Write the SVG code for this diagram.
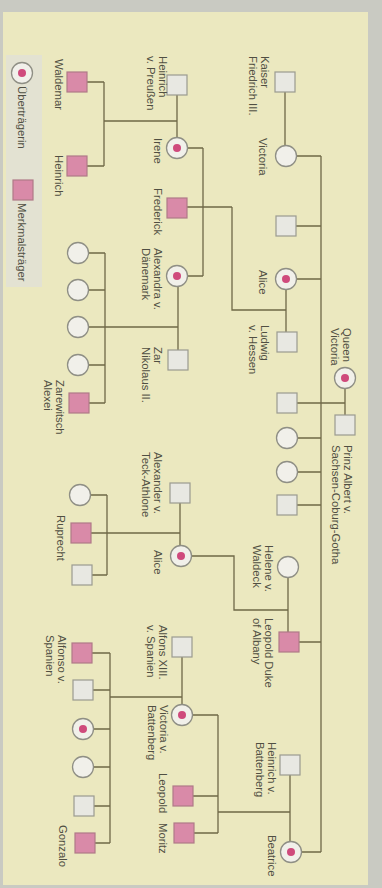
<svg xmlns="http://www.w3.org/2000/svg" xmlns:xlink="http://www.w3.org/1999/xlink" width="382" height="888" viewBox="0 0 382 888">
<style>
.ln{stroke:#6f6847;stroke-width:1.3;fill:none}
.sq{fill:#e8e8e2;stroke:#9a9a90;stroke-width:1.2}
.sqp{fill:#d98aa8;stroke:#b07a88;stroke-width:1.2}
.ci{fill:#f1f0ea;stroke:#8f8f85;stroke-width:1.3}
.dot{fill:#cf4a7c}
.lbl{font-family:"Liberation Sans",Arial,sans-serif;font-size:11.3px;fill:#504f42}
</style>
<defs>
<rect id="S" class="sq" x="-10" y="-10" width="20" height="20"/>
<rect id="P" class="sqp" x="-10" y="-10" width="20" height="20"/>
<circle id="C" class="ci" r="10.5"/>
<g id="T"><circle class="ci" r="10.5"/><circle class="dot" r="4"/></g>
</defs>
<rect x="0" y="0" width="382" height="888" fill="#c9cac2"/>
<rect x="3" y="12" width="365" height="873" fill="#ebe8bf"/>
<rect x="6" y="55" width="36" height="232" fill="#e3e2d2"/>

<g id="connectors">
<path class="ln" d="M345 388.5V415 M297 403H345 M321 156V852 M296.5 156H321 M296 226H321 M296.5 279H321 M297 438H321 M297.5 472H321 M297 505H321 M299 642H321 M301.5 852H321"/>
<path class="ln" d="M285 92V145.5 M286 289.5V332 M288 577.5V632 M290 775V841.5"/>
<path class="ln" d="M286 310H232V207 M187 207H232 M187.5 148H203 M203 148V276 M187.5 276H203"/>
<path class="ln" d="M177 95V137.5 M177 121H104 M104 82V166 M87 82H104 M87 166H104"/>
<path class="ln" d="M178 286.5V350 M178 327H105 M105 253V403 M88.5 253H105 M88.5 290H105 M88.5 327H105 M88.5 365H105 M89 403H105"/>
<path class="ln" d="M191.5 556H234V610H288 M180 503V545.5 M180 533H91 M107 495V575 M90.5 495H107 M92 575H107"/>
<path class="ln" d="M192.5 715H218 M218 715V833 M193 796H218 M194 833H218 M290 812H218"/>
<path class="ln" d="M182 657V704.5 M182 697H110 M110 653V843 M92 653H110 M93 690H110 M93.5 729H110 M93.5 767H110 M94 806H110 M95 843H110"/>
</g>

<g id="legend">
<use xlink:href="#T" x="22" y="73"/>
<text class="lbl" transform="translate(18,86) rotate(90)">Überträgerin</text>
<use xlink:href="#P" x="23" y="190"/>
<text class="lbl" transform="translate(18,203) rotate(90)">Merkmalsträger</text>
</g>

<g id="queen-victoria"><use xlink:href="#T" x="345" y="378"/><text class="lbl" transform="translate(343,328) rotate(90)">Queen<tspan x="0" dy="12.5">Victoria</tspan></text></g>
<g id="prinz-albert"><use xlink:href="#S" x="345" y="425"/><text class="lbl" transform="translate(344,445) rotate(90)">Prinz Albert v.<tspan x="0" dy="12.5">Sachsen-Coburg-Gotha</tspan></text></g>

<g id="kaiser-friedrich"><use xlink:href="#S" x="285" y="82"/><text class="lbl" transform="translate(261,56) rotate(90)">Kaiser<tspan x="0" dy="12.5">Friedrich III.</tspan></text></g>
<g id="victoria"><use xlink:href="#C" x="286" y="156"/><text class="lbl" transform="translate(259,138) rotate(90)">Victoria</text></g>
<g id="son-1"><use xlink:href="#S" x="286" y="226"/></g>
<g id="alice"><use xlink:href="#T" x="286" y="279"/><text class="lbl" transform="translate(259,270) rotate(90)">Alice</text></g>
<g id="ludwig"><use xlink:href="#S" x="287" y="342"/><text class="lbl" transform="translate(261,325) rotate(90)">Ludwig<tspan x="0" dy="12.5">v. Hessen</tspan></text></g>
<g id="son-2"><use xlink:href="#S" x="287" y="403"/></g>
<g id="daughter-1"><use xlink:href="#C" x="287" y="438"/></g>
<g id="daughter-2"><use xlink:href="#C" x="287" y="472"/></g>
<g id="son-3"><use xlink:href="#S" x="287" y="505"/></g>
<g id="helene"><use xlink:href="#C" x="288" y="567"/><text class="lbl" transform="translate(265,545) rotate(90)">Helene v.<tspan x="0" dy="12.5">Waldeck</tspan></text></g>
<g id="leopold-albany"><use xlink:href="#P" x="289" y="642"/><text class="lbl" transform="translate(265,618) rotate(90)">Leopold Duke<tspan x="0" dy="12.5">of Albany</tspan></text></g>
<g id="heinrich-battenberg"><use xlink:href="#S" x="290" y="765"/><text class="lbl" transform="translate(268,742) rotate(90)">Heinrich v.<tspan x="0" dy="12.5">Battenberg</tspan></text></g>
<g id="beatrice"><use xlink:href="#T" x="291" y="852"/><text class="lbl" transform="translate(268,835) rotate(90)">Beatrice</text></g>

<g id="heinrich-preussen"><use xlink:href="#S" x="177" y="85"/><text class="lbl" transform="translate(159,56) rotate(90)">Heinrich<tspan x="0" dy="12.5">v. Preußen</tspan></text></g>
<g id="irene"><use xlink:href="#T" x="177" y="148"/><text class="lbl" transform="translate(154,138) rotate(90)">Irene</text></g>
<g id="frederick"><use xlink:href="#P" x="177" y="208"/><text class="lbl" transform="translate(154,188) rotate(90)">Frederick</text></g>
<g id="alexandra"><use xlink:href="#T" x="177" y="276"/><text class="lbl" transform="translate(154,248) rotate(90)">Alexandra v.<tspan x="0" dy="12.5">Dänemark</tspan></text></g>
<g id="nikolaus"><use xlink:href="#S" x="178" y="360"/><text class="lbl" transform="translate(154,347) rotate(90)">Zar<tspan x="0" dy="12.5">Nikolaus II.</tspan></text></g>
<g id="alexander-teck"><use xlink:href="#S" x="180" y="493"/><text class="lbl" transform="translate(154,452) rotate(90)">Alexander v.<tspan x="0" dy="12.5">Teck-Athlone</tspan></text></g>
<g id="alice-albany"><use xlink:href="#T" x="181" y="556"/><text class="lbl" transform="translate(154,550) rotate(90)">Alice</text></g>
<g id="alfons-xiii"><use xlink:href="#S" x="182" y="647"/><text class="lbl" transform="translate(159,625) rotate(90)">Alfons XIII.<tspan x="0" dy="12.5">v. Spanien</tspan></text></g>
<g id="victoria-battenberg"><use xlink:href="#T" x="182" y="715"/><text class="lbl" transform="translate(160,705) rotate(90)">Victoria v.<tspan x="0" dy="12.5">Battenberg</tspan></text></g>
<g id="leopold"><use xlink:href="#P" x="183" y="796"/><text class="lbl" transform="translate(159,773) rotate(90)">Leopold</text></g>
<g id="moritz"><use xlink:href="#P" x="184" y="833"/><text class="lbl" transform="translate(159,823) rotate(90)">Moritz</text></g>

<g id="waldemar"><use xlink:href="#P" x="77" y="82"/><text class="lbl" transform="translate(55,59) rotate(90)">Waldemar</text></g>
<g id="heinrich"><use xlink:href="#P" x="77" y="166"/><text class="lbl" transform="translate(55,155) rotate(90)">Heinrich</text></g>
<g id="tochter-1"><use xlink:href="#C" x="78" y="253"/></g>
<g id="tochter-2"><use xlink:href="#C" x="78" y="290"/></g>
<g id="tochter-3"><use xlink:href="#C" x="78" y="327"/></g>
<g id="tochter-4"><use xlink:href="#C" x="78" y="365"/></g>
<g id="alexei"><use xlink:href="#P" x="79" y="403"/><text class="lbl" transform="translate(56,380) rotate(90)">Zarewitsch<tspan x="0" dy="12.5">Alexei</tspan></text></g>
<g id="tochter-5"><use xlink:href="#C" x="80" y="495"/></g>
<g id="ruprecht"><use xlink:href="#P" x="81" y="533"/><text class="lbl" transform="translate(57,515) rotate(90)">Ruprecht</text></g>
<g id="sohn-5"><use xlink:href="#S" x="82" y="575"/></g>
<g id="alfonso"><use xlink:href="#P" x="82" y="653"/><text class="lbl" transform="translate(58,635) rotate(90)">Alfonso v.<tspan x="0" dy="12.5">Spanien</tspan></text></g>
<g id="sohn-6"><use xlink:href="#S" x="83" y="690"/></g>
<g id="tochter-6"><use xlink:href="#T" x="83" y="729"/></g>
<g id="tochter-7"><use xlink:href="#C" x="83" y="767"/></g>
<g id="sohn-7"><use xlink:href="#S" x="84" y="806"/></g>
<g id="gonzalo"><use xlink:href="#P" x="85" y="843"/><text class="lbl" transform="translate(59,825) rotate(90)">Gonzalo</text></g>
</svg>
